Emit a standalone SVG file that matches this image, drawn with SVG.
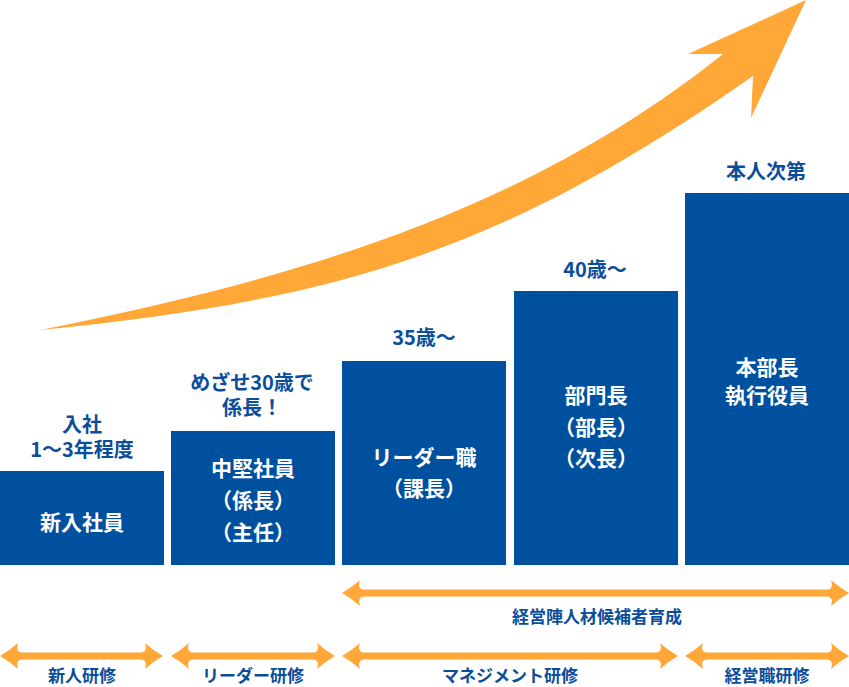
<svg xmlns="http://www.w3.org/2000/svg" width="849" height="687" viewBox="0 0 849 687">
<style>
.box{fill:#0050a0}
.wt{fill:#ffffff;font-family:"Noto Sans CJK JP","Noto Sans",sans-serif;font-weight:700;font-size:21px;text-anchor:middle}
.bt{fill:#0a4e9b;font-family:"Noto Sans CJK JP","Noto Sans",sans-serif;font-weight:700;font-size:20px;text-anchor:middle}
.lt{fill:#0a4e9b;font-family:"Noto Sans CJK JP","Noto Sans",sans-serif;font-weight:700;font-size:17px;text-anchor:middle}
.or{fill:#ffa838}
</style>
<rect width="849" height="687" fill="#ffffff"/>
<g id="growth-arrow">
<path class="or" d="M40,330 C290,280 523,214 723,54 L688,54 L806,0 L751,118 L753,76 C503,251 340,300 40,330 Z"/>
</g>
<g id="node-shinnyu">
<text class="bt" x="82" y="432">入社</text>
<text class="bt" x="82" y="457">1〜3年程度</text>
<rect class="box" x="0" y="471" width="164" height="94"/>
<text class="wt" x="82" y="530">新入社員</text>
</g>
<g id="node-chuken">
<text class="bt" x="252" y="390">めざせ30歳で</text>
<text class="bt" x="252" y="415">係長！</text>
<rect class="box" x="171" y="431" width="164" height="134"/>
<text class="wt" x="253" y="476">中堅社員</text>
<text class="wt" x="253" y="508">（係長）</text>
<text class="wt" x="253" y="540">（主任）</text>
</g>
<g id="node-leader">
<text class="bt" x="424" y="345">35歳〜</text>
<rect class="box" x="342" y="361" width="164" height="204"/>
<text class="wt" x="424" y="465">リーダー職</text>
<text class="wt" x="424" y="496">（課長）</text>
</g>
<g id="node-bumon">
<text class="bt" x="595" y="277">40歳〜</text>
<rect class="box" x="514" y="291" width="164" height="274"/>
<text class="wt" x="596" y="403">部門長</text>
<text class="wt" x="596" y="435">（部長）</text>
<text class="wt" x="596" y="466">（次長）</text>
</g>
<g id="node-honbu">
<text class="bt" x="766" y="179">本人次第</text>
<rect class="box" x="685" y="193" width="164" height="372"/>
<text class="wt" x="767" y="375">本部長</text>
<text class="wt" x="767" y="403">執行役員</text>
</g>
<g id="connectors">
<path class="or" d="M364,589.5 L827,589.5 Q834,589 831,580 Q840,588 849,593 Q840,598 831,606 Q834,597 827,596.5 L364,596.5 Q357,597 360,606 Q351,598 342,593 Q351,588 360,580 Q357,589 364,589.5 Z"/>
<path class="or" d="M22,652.5 L141,652.5 Q148,652 145,643 Q154,651 163,656 Q154,661 145,669 Q148,660 141,659.5 L22,659.5 Q15,660 18,669 Q9,661 0,656 Q9,651 18,643 Q15,652 22,652.5 Z"/>
<path class="or" d="M193,652.5 L313,652.5 Q320,652 317,643 Q326,651 335,656 Q326,661 317,669 Q320,660 313,659.5 L193,659.5 Q186,660 189,669 Q180,661 171,656 Q180,651 189,643 Q186,652 193,652.5 Z"/>
<path class="or" d="M364,652.5 L656,652.5 Q663,652 660,643 Q669,651 678,656 Q669,661 660,669 Q663,660 656,659.5 L364,659.5 Q357,660 360,669 Q351,661 342,656 Q351,651 360,643 Q357,652 364,652.5 Z"/>
<path class="or" d="M707,652.5 L827,652.5 Q834,652 831,643 Q840,651 849,656 Q840,661 831,669 Q834,660 827,659.5 L707,659.5 Q700,660 703,669 Q694,661 685,656 Q694,651 703,643 Q700,652 707,652.5 Z"/>
<text class="lt" x="597" y="623">経営陣人材候補者育成</text>
<text class="lt" x="82" y="682">新人研修</text>
<text class="lt" x="253" y="682">リーダー研修</text>
<text class="lt" x="510" y="682">マネジメント研修</text>
<text class="lt" x="767" y="682">経営職研修</text>
</g>
</svg>
